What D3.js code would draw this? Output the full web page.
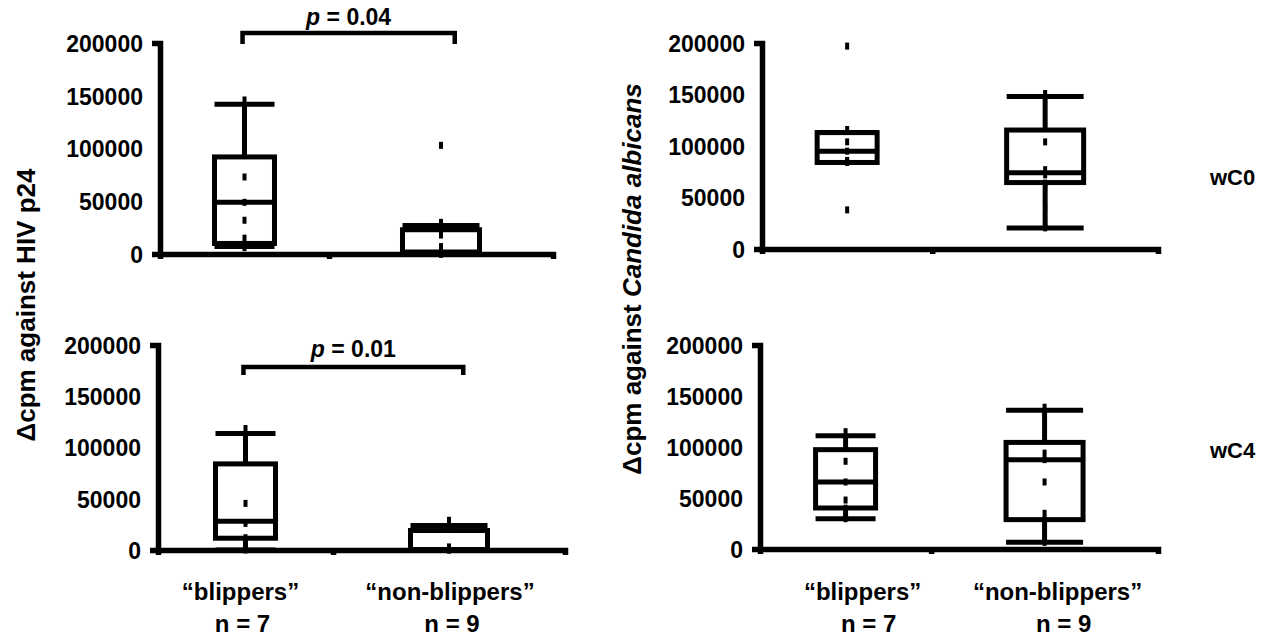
<!DOCTYPE html>
<html>
<head>
<meta charset="utf-8">
<script src="https://cdn.jsdelivr.net/npm/d3@7"></script>
<style>
  body { margin: 0; background: #fff; }
  text { font-family: "Liberation Sans", Arial, sans-serif; font-weight: bold; fill: #000; }
</style>
</head>
<body>
<svg id="chart" width="1266" height="638"></svg>
<script>
// categories and tick labels
var groups = ["\u201Cblippers\u201D", "\u201Cnon-blippers\u201D"];
var groupN = ["n = 7", "n = 9"];
var yTicks = [0, 50000, 100000, 150000, 200000];
var rowLabels = ["wC0", "wC4"];
var pValues = ["0.04", "0.01"];

// box stats per group: [low whisker, Q1, median, Q3, high whisker]
var hivC0Boxes = [[7000, 10000, 49000, 92000, 142000], [0, 500, 2000, 23000, 27000]];
var hivC4Boxes = [[0, 11500, 28000, 84000, 113600], [0, 0, 500, 19000, 24000]];
var canC0Boxes = [[84000, 84000, 95000, 113000, 113000], [20500, 64500, 74000, 115500, 148000]];
var canC4Boxes = [[29700, 40200, 65700, 97400, 111000], [6500, 28800, 87600, 104500, 136000]];

// individual values (drawn as small dashes)
var hivC0Points = [[146000, 73000, 49000, 32000, 15000, 9000, 6000],
                   [103000, 30000, 18000, 7000, 2000, 1000, 0, 0, 0]];
var hivC4Points = [[118500, 45500, 26000, 12000, 5000, 2000, 0],
                   [29000, 24000, 22000, 20000, 3000, 1000, 500, 0, 0]];
var canC0Points = [[197000, 116000, 104000, 95000, 86000, 84000, 38000],
                   [151000, 104000, 77000, 72000, 64000, 60000, 40000, 22000, 20500]];
var canC4Points = [[115000, 86000, 65700, 48000, 40000, 33000, 29700],
                   [139000, 94000, 87600, 65700, 35000, 28800, 20000, 10000, 6500]];

// significance brackets (left panels): bracket top, bracket feet, text baseline
var bracketTop = [209500, 178500];
var bracketFoot = [199000, 170700];
var pTextY = [217000, 188300];

var svg = d3.select("#chart");

var panels = [
  { boxes: hivC0Boxes, points: hivC0Points, x0: 160, x1: 553, yTop: 43, yZero: 254, sig: 0 },
  { boxes: canC0Boxes, points: canC0Points, x0: 762, x1: 1158, yTop: 43, yZero: 249, row: 0, rowY: 185 },
  { boxes: hivC4Boxes, points: hivC4Points, x0: 158, x1: 565, yTop: 345, yZero: 550, sig: 1, labels: [-5, 1] },
  { boxes: canC4Boxes, points: canC4Points, x0: 760, x1: 1158, yTop: 345, yZero: 549, row: 1, rowY: 458, labels: [17, 13] }
];

var boxWidths = [60, 77];
var centers = [0.43, 1.43];

panels.forEach(function(p) {
  var x = d3.scaleLinear().domain([0, 2]).range([p.x0, p.x1]);
  var y = d3.scaleLinear().domain([0, 200000]).range([p.yZero, p.yTop]);
  var g = svg.append("g");

  // y axis
  var ya = g.append("g")
    .attr("transform", "translate(" + p.x0 + ",0)")
    .call(d3.axisLeft(y).tickValues(yTicks).tickFormat(d3.format("d"))
      .tickSizeInner(0).tickSizeOuter(8).tickPadding(17));
  ya.select(".domain").attr("stroke", "#000").attr("stroke-width", 5.5);
  ya.selectAll("text").attr("font-size", 23).attr("font-family", null).attr("dy", "0.36em");

  // x axis
  var xa = g.append("g")
    .attr("transform", "translate(0," + p.yZero + ")")
    .call(d3.axisBottom(x).tickValues([0.86]).tickSizeInner(5).tickSizeOuter(5).tickFormat(""));
  xa.select(".domain").attr("stroke", "#000").attr("stroke-width", 5.5);
  xa.selectAll(".tick line").attr("stroke", "#000").attr("stroke-width", 5.5);

  // boxes
  p.boxes.forEach(function(b, i) {
    var cx = x(centers[i]), w = boxWidths[i];
    var bg = g.append("g").attr("stroke", "#000").attr("stroke-width", 5).attr("fill", "none");
    bg.append("line").attr("x1", cx).attr("x2", cx).attr("y1", y(b[3])).attr("y2", y(b[4]));
    bg.append("line").attr("x1", cx).attr("x2", cx).attr("y1", y(b[1])).attr("y2", y(b[0]));
    bg.append("line").attr("x1", cx - w / 2).attr("x2", cx + w / 2).attr("y1", y(b[4])).attr("y2", y(b[4]));
    bg.append("line").attr("x1", cx - w / 2).attr("x2", cx + w / 2).attr("y1", y(b[0])).attr("y2", y(b[0]));
    bg.append("rect").attr("x", cx - w / 2).attr("width", w)
      .attr("y", y(b[3])).attr("height", y(b[1]) - y(b[3]));
    bg.append("line").attr("x1", cx - w / 2).attr("x2", cx + w / 2).attr("y1", y(b[2])).attr("y2", y(b[2]));

    g.selectAll(null).data(p.points[i]).enter().append("rect")
      .attr("x", cx - 2).attr("width", 4)
      .attr("y", function(d) { return y(d) - 3.5; }).attr("height", 7)
      .attr("fill", "#000");
  });

  // significance bracket
  if (p.sig !== undefined) {
    var s = p.sig, bx0 = x(0.42), bx1 = x(1.5);
    g.append("path")
      .attr("d", "M" + bx0 + "," + y(bracketFoot[s]) + "V" + y(bracketTop[s]) + "H" + bx1 + "V" + y(bracketFoot[s]))
      .attr("fill", "none").attr("stroke", "#000").attr("stroke-width", 4.5);
    var t = g.append("text").attr("x", (bx0 + bx1) / 2).attr("y", y(pTextY[s]))
      .attr("text-anchor", "middle").attr("font-size", 23);
    t.append("tspan").attr("font-style", "italic").text("p");
    t.append("tspan").text(" = " + pValues[s]);
  }

  // category labels
  if (p.labels) {
    groups.forEach(function(name, i) {
      var lx = x(centers[i]) + p.labels[i];
      g.append("text").attr("x", lx).attr("y", 600).attr("text-anchor", "middle")
        .attr("font-size", 24).text(name);
      g.append("text").attr("x", lx + (p.row === 1 ? 6 : 2)).attr("y", 632).attr("text-anchor", "middle")
        .attr("font-size", 24).text(groupN[i]);
    });
  }

  // row label on right
  if (p.row !== undefined) {
    g.append("text").attr("x", 1210).attr("y", p.rowY)
      .attr("font-size", 22).text(rowLabels[p.row]);
  }
});

// y axis titles
svg.append("text")
  .attr("transform", "translate(35,305) rotate(-90)")
  .attr("text-anchor", "middle").attr("font-size", 26)
  .text("\u0394cpm against HIV p24");

var rt = svg.append("text")
  .attr("transform", "translate(641,279) rotate(-90)")
  .attr("text-anchor", "middle").attr("font-size", 26);
rt.append("tspan").text("\u0394cpm against ");
rt.append("tspan").attr("font-style", "italic").text("Candida albicans");
</script>
</body>
</html>
